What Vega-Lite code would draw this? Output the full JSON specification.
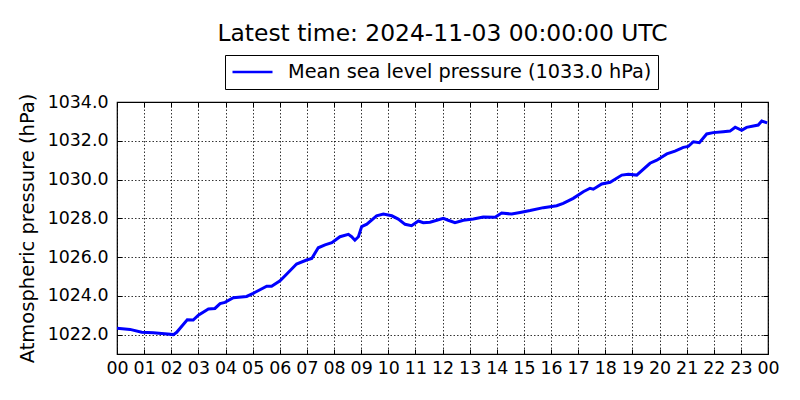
{
  "$schema": "https://vega.github.io/schema/vega-lite/v6.json",
  "width": 651,
  "height": 252,
  "autosize": {"type": "none"},
  "padding": {"left": 117, "top": 102, "right": 32, "bottom": 46},
  "title": {"text": "Latest time: 2024-11-03 00:00:00 UTC", "fontSize": 23.4, "fontWeight": "normal", "font": "DejaVu Sans", "color": "black", "anchor": "middle", "offset": 8},
  "config": {
    "font": "DejaVu Sans",
    "view": {"stroke": "black", "strokeWidth": 1.2},
    "axis": {"labelFont": "DejaVu Sans", "titleFont": "DejaVu Sans", "labelColor": "black", "titleColor": "black", "gridColor": "black", "gridOpacity": 1, "gridDash": [1.5, 2], "gridWidth": 0.8, "tickColor": "black", "tickWidth": 1, "domain": false}
  },
  "data": {"values": [
    {"hour": 0.0, "pressure": 1022.33},
    {"hour": 0.48, "pressure": 1022.27},
    {"hour": 0.91, "pressure": 1022.12},
    {"hour": 1.34, "pressure": 1022.1},
    {"hour": 1.65, "pressure": 1022.06},
    {"hour": 2.08, "pressure": 1022.0},
    {"hour": 2.2, "pressure": 1022.12},
    {"hour": 2.59, "pressure": 1022.77},
    {"hour": 2.81, "pressure": 1022.75},
    {"hour": 3.0, "pressure": 1023.0},
    {"hour": 3.37, "pressure": 1023.32},
    {"hour": 3.61, "pressure": 1023.35},
    {"hour": 3.8, "pressure": 1023.6},
    {"hour": 3.98, "pressure": 1023.66},
    {"hour": 4.29, "pressure": 1023.9},
    {"hour": 4.78, "pressure": 1023.97},
    {"hour": 5.02, "pressure": 1024.13},
    {"hour": 5.52, "pressure": 1024.5},
    {"hour": 5.7, "pressure": 1024.5},
    {"hour": 6.01, "pressure": 1024.78},
    {"hour": 6.26, "pressure": 1025.13},
    {"hour": 6.62, "pressure": 1025.64},
    {"hour": 6.99, "pressure": 1025.85},
    {"hour": 7.18, "pressure": 1025.93},
    {"hour": 7.42, "pressure": 1026.48},
    {"hour": 7.67, "pressure": 1026.63},
    {"hour": 7.92, "pressure": 1026.74},
    {"hour": 8.22, "pressure": 1027.05},
    {"hour": 8.53, "pressure": 1027.17},
    {"hour": 8.65, "pressure": 1027.05},
    {"hour": 8.77, "pressure": 1026.87},
    {"hour": 8.9, "pressure": 1027.05},
    {"hour": 9.02, "pressure": 1027.57},
    {"hour": 9.21, "pressure": 1027.7},
    {"hour": 9.57, "pressure": 1028.13},
    {"hour": 9.82, "pressure": 1028.22},
    {"hour": 10.13, "pressure": 1028.13},
    {"hour": 10.37, "pressure": 1027.96},
    {"hour": 10.62, "pressure": 1027.69},
    {"hour": 10.86, "pressure": 1027.62},
    {"hour": 11.11, "pressure": 1027.86},
    {"hour": 11.29, "pressure": 1027.77},
    {"hour": 11.54, "pressure": 1027.8},
    {"hour": 11.79, "pressure": 1027.9},
    {"hour": 12.03, "pressure": 1028.0},
    {"hour": 12.21, "pressure": 1027.9},
    {"hour": 12.46, "pressure": 1027.77},
    {"hour": 12.77, "pressure": 1027.9},
    {"hour": 13.14, "pressure": 1027.96},
    {"hour": 13.5, "pressure": 1028.07},
    {"hour": 13.94, "pressure": 1028.05},
    {"hour": 14.18, "pressure": 1028.27},
    {"hour": 14.55, "pressure": 1028.22},
    {"hour": 14.86, "pressure": 1028.3},
    {"hour": 15.23, "pressure": 1028.4},
    {"hour": 15.72, "pressure": 1028.55},
    {"hour": 16.21, "pressure": 1028.65},
    {"hour": 16.45, "pressure": 1028.77},
    {"hour": 16.82, "pressure": 1029.03},
    {"hour": 17.19, "pressure": 1029.37},
    {"hour": 17.44, "pressure": 1029.55},
    {"hour": 17.56, "pressure": 1029.5},
    {"hour": 17.87, "pressure": 1029.77},
    {"hour": 18.18, "pressure": 1029.86},
    {"hour": 18.61, "pressure": 1030.23},
    {"hour": 18.85, "pressure": 1030.27},
    {"hour": 19.16, "pressure": 1030.23},
    {"hour": 19.65, "pressure": 1030.84},
    {"hour": 19.9, "pressure": 1031.0},
    {"hour": 20.27, "pressure": 1031.32},
    {"hour": 20.57, "pressure": 1031.47},
    {"hour": 20.88, "pressure": 1031.66},
    {"hour": 21.06, "pressure": 1031.71},
    {"hour": 21.25, "pressure": 1031.95},
    {"hour": 21.47, "pressure": 1031.9},
    {"hour": 21.74, "pressure": 1032.35},
    {"hour": 21.98, "pressure": 1032.42},
    {"hour": 22.35, "pressure": 1032.47},
    {"hour": 22.6, "pressure": 1032.5},
    {"hour": 22.79, "pressure": 1032.7},
    {"hour": 23.03, "pressure": 1032.54},
    {"hour": 23.21, "pressure": 1032.69},
    {"hour": 23.46, "pressure": 1032.76},
    {"hour": 23.64, "pressure": 1032.81},
    {"hour": 23.77, "pressure": 1033.02},
    {"hour": 23.97, "pressure": 1032.92}
  ]},
  "layer": [
    {
      "mark": {"type": "line", "strokeWidth": 3, "clip": true},
      "encoding": {
        "x": {
          "field": "hour", "type": "quantitative",
          "scale": {"domain": [0, 24], "nice": false, "zero": false},
          "axis": {
            "title": null,
            "values": [0,1,2,3,4,5,6,7,8,9,10,11,12,13,14,15,16,17,18,19,20,21,22,23,24],
            "labelExpr": "datum.value == 24 ? '00' : (datum.value < 10 ? '0' + datum.value : '' + datum.value)",
            "labelFontSize": 17.4, "labelPadding": 10, "tickSize": -5, "labelFlush": false, "labelOverlap": false
          }
        },
        "y": {
          "field": "pressure", "type": "quantitative",
          "scale": {"domain": [1021, 1034], "nice": false, "zero": false},
          "axis": {
            "title": "Atmospheric pressure (hPa)",
            "titleFontSize": 19.5, "titleFontWeight": "normal", "titlePadding": 10,
            "values": [1022, 1024, 1026, 1028, 1030, 1032, 1034],
            "format": ".1f", "labelFontSize": 17.4, "labelPadding": 14, "tickSize": -5, "labelOverlap": false
          }
        },
        "color": {
          "datum": "Mean sea level pressure (1033.0 hPa)",
          "scale": {"range": ["#0000ff"]},
          "legend": {
            "title": null, "orient": "none", "legendX": 108, "legendY": -47,
            "strokeColor": "black", "fillColor": "white", "padding": 6, "cornerRadius": 0,
            "symbolType": "stroke", "symbolStrokeWidth": 2.5, "symbolSize": 1600, "clipHeight": 22,
            "labelFontSize": 19.3, "labelColor": "black", "labelFont": "DejaVu Sans", "labelOffset": 14, "labelLimit": 500
          }
        }
      }
    },
    {
      "mark": {"type": "line", "strokeOpacity": 0},
      "encoding": {
        "x": {
          "field": "hour", "type": "quantitative",
          "axis": {"orient": "top", "title": null, "labels": false, "grid": false, "tickSize": -5,
            "values": [0,1,2,3,4,5,6,7,8,9,10,11,12,13,14,15,16,17,18,19,20,21,22,23,24]}
        },
        "y": {
          "field": "pressure", "type": "quantitative",
          "axis": {"orient": "right", "title": null, "labels": false, "grid": false, "tickSize": -5,
            "values": [1022, 1024, 1026, 1028, 1030, 1032, 1034]}
        }
      }
    }
  ],
  "resolve": {"axis": {"x": "independent", "y": "independent"}}
}
